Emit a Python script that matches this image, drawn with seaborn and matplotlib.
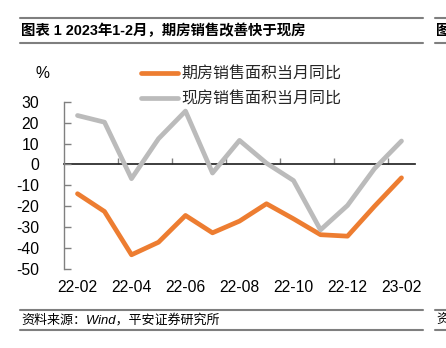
import matplotlib
matplotlib.use("Agg")
import matplotlib.pyplot as plt
from matplotlib.lines import Line2D
import seaborn as sns
import pandas as pd
import numpy as np

months = ["22-02", "22-03", "22-04", "22-05", "22-06", "22-07", "22-08",
          "22-09", "22-10", "22-11", "22-12", "23-01", "23-02"]
futures_yoy = [-14.0, -22.5, -43.2, -37.2, -24.4, -32.7, -27.1,
               -18.8, -26.0, -33.6, -34.3, -20.0, -6.4]
existing_yoy = [23.4, 20.2, -6.8, 12.3, 25.5, -4.1, 11.5,
                0.6, -7.7, -31.3, -19.6, -2.0, 11.2]
series_names = ["期房销售面积当月同比", "现房销售面积当月同比"]
tick_labels = ["22-02", "22-04", "22-06", "22-08", "22-10", "22-12", "23-02"]
y_ticks = [30, 20, 10, 0, -10, -20, -30, -40, -50]
title = "图表 1 2023年1-2月，期房销售改善快于现房"
source = "资料来源：Wind，平安证券研究所"

sns.set_theme(style="white")
plt.rcParams["font.family"] = ["Liberation Sans", "Noto Sans CJK SC", "DejaVu Sans"]
plt.rcParams["axes.unicode_minus"] = False

W, H = 446, 348
fig = plt.figure(figsize=(W / 100, H / 100), dpi=100)

def fx(px):
    return px / W

def fy(py):
    return 1 - py / H

ax = fig.add_axes([fx(64), fy(269), fx(415) - fx(64), fy(101.7) - fy(269)])

df = pd.DataFrame({
    "month": months * 2,
    "value": futures_yoy + existing_yoy,
    "series": [series_names[0]] * len(months) + [series_names[1]] * len(months),
})
colors = {series_names[0]: "#ED7D31", series_names[1]: "#BBBBBB"}
sns.lineplot(data=df, x="month", y="value", hue="series", palette=colors,
             sort=False, linewidth=3.4, ax=ax, legend=False)
ax.lines[0].set_zorder(3)
ax.lines[1].set_zorder(4)

ylo, yhi = -50, 30
ax.set_ylim(ylo, yhi)
ax.set_xlim(-0.5, len(months) - 0.5)
ax.set_xlabel("")
ax.set_ylabel("")

for s in ["top", "right", "bottom"]:
    ax.spines[s].set_visible(False)
ax.spines["left"].set_color("#808080")
ax.spines["left"].set_linewidth(1.0)

ax.set_yticks(y_ticks)
ax.set_yticklabels([str(v) for v in y_ticks])
ax.tick_params(axis="y", direction="in", length=5, width=1.0, color="#808080",
               pad=18, labelsize=11.3, labelcolor="#000000", left=True)

pos = [months.index(m) for m in tick_labels]
ax.set_xticks(pos)
ax.set_xticklabels(tick_labels)
ax.tick_params(axis="x", length=0, pad=8, labelsize=11.3, labelcolor="#000000")

# zero axis line with boundary ticks
sec = ax.secondary_xaxis((0 - ylo) / (yhi - ylo))
sec.spines["bottom"].set_color("#808080")
sec.spines["bottom"].set_linewidth(1.2)
sec.set_xticks([p + 1.5 for p in pos[:-1]])
sec.tick_params(axis="x", direction="in", length=4, width=1.0, color="#808080",
                labelbottom=False, labeltop=False, bottom=True, top=False)
ax.grid(False)

# % unit label
fig.text(fx(42), fy(73), "%", ha="center", va="center", fontsize=11.3, color="#000000")

# legend
handles = [Line2D([0], [0], color=colors[n], lw=3.4) for n in series_names]
fig.legend(handles, series_names, loc="upper left",
           bbox_to_anchor=(fx(141), fy(67)), frameon=False, fontsize=11.5,
           handlelength=2.3, handletextpad=0.2, labelspacing=0.56,
           borderpad=0, borderaxespad=0)

# title and rules
rule_c = "#7F7F7F"
for y in (18, 43, 310, 330):
    fig.add_artist(Line2D([fx(20), fx(423)], [fy(y), fy(y)], color=rule_c, lw=1.5))
    fig.add_artist(Line2D([fx(435), fx(446)], [fy(y), fy(y)], color=rule_c, lw=1.5))
fig.text(fx(21), fy(31), title, ha="left", va="center", fontsize=10.4,
         fontweight="bold", color="#000000")
fig.text(fx(436), fy(31), "图", ha="left", va="center", fontsize=10.4,
         fontweight="bold", color="#000000")
fig.text(fx(21), fy(320), source, ha="left", va="center", fontsize=9.4,
         style="italic", color="#000000")
fig.text(fx(436), fy(320), "资", ha="left", va="center", fontsize=9.4,
         style="italic", color="#000000")

fig.savefig("out.png", dpi=100)
